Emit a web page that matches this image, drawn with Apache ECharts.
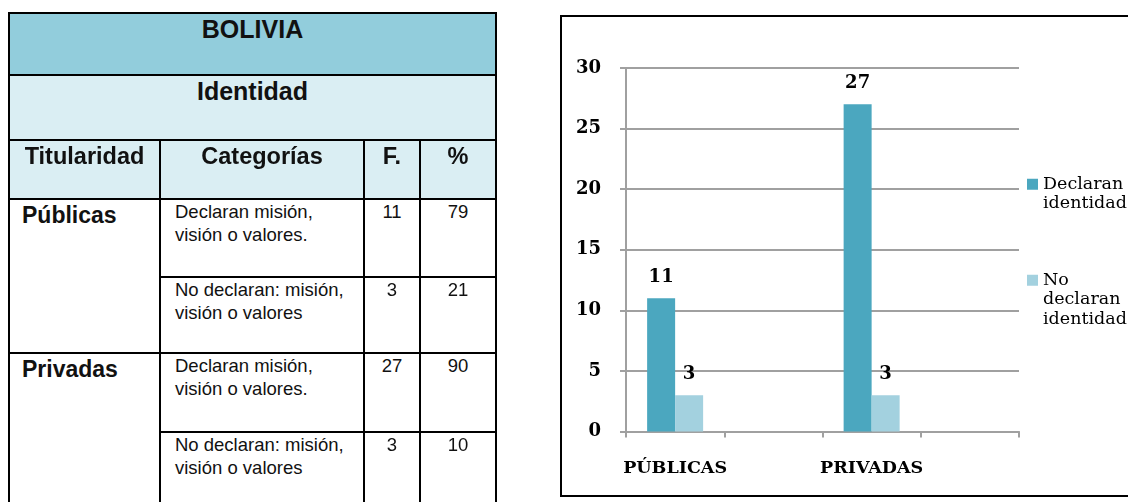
<!DOCTYPE html>
<html>
<head>
<meta charset="utf-8">
<script src="https://cdn.jsdelivr.net/npm/echarts@6/dist/echarts.min.js"></script>
<style>
  html, body { margin: 0; padding: 0; background: #fff; }
  #wrap { position: relative; width: 1128px; height: 502px; overflow: hidden; }
  #chart { position: absolute; left: 0; top: 0; width: 1128px; height: 502px; }
  #box { position: absolute; left: 560px; top: 15px; width: 620px; height: 482px; border: 2px solid #000; box-sizing: border-box; pointer-events: none; }
  #table { position: absolute; left: 0; top: 0; width: 520px; height: 502px; font-family: 'Liberation Sans', Arial, sans-serif; }
  .cell { position: absolute; box-sizing: border-box; border: 2px solid #000; color: #111; overflow: hidden; }
  .hdr { font-weight: bold; font-size: 23.5px; line-height: 26px; text-align: center; color: #111; }
  .big { font-size: 25px; line-height: 27px; }
  .tit { font-weight: bold; font-size: 23px; line-height: 26px; text-align: left; }
  .txt { font-size: 18.5px; line-height: 23.3px; text-align: left; white-space: pre; }
  .num { font-size: 18.5px; line-height: 23.3px; text-align: center; }
</style>
</head>
<body>
<div id="wrap">
  <div id="chart"></div>
  <div id="box"></div>
  <div id="table"></div>
</div>
<script>
// ---- Table data ----
const tableTitle = 'BOLIVIA';
const tableSubtitle = 'Identidad';
const tableHeaders = ['Titularidad', 'Categorías', 'F.', '%'];
const titularidad = ['Públicas', 'Privadas'];
const categorias = ['Declaran misión,\nvisión o valores.', 'No declaran: misión,\nvisión o valores', 'Declaran misión,\nvisión o valores.', 'No declaran: misión,\nvisión o valores'];
const frecuencias = [11, 3, 27, 3];
const porcentajes = [79, 21, 90, 10];

// ---- Chart data ----
const categories = ['PÚBLICAS', '', 'PRIVADAS', ' '];
const declaran = [11, null, 27, null];
const noDeclaran = [3, null, 3, null];
const seriesNames = ['Declaran identidad', 'No declaran identidad'];
const yMin = 0, yMax = 30, yInterval = 5;

// ---- Build table (layout only) ----
const X = [9, 160, 364, 420, 496];
const Y = [13, 75, 139.5, 199, 277, 353, 431.5, 520];
const tbl = document.getElementById('table');
function cell(x0, y0, x1, y1, text, cls, bg, pad) {
  const d = document.createElement('div');
  d.className = 'cell ' + cls;
  d.style.left = (x0 - 1) + 'px';
  d.style.top = (y0 - 1) + 'px';
  d.style.width = (x1 - x0 + 2) + 'px';
  d.style.height = (y1 - y0 + 2) + 'px';
  d.style.background = bg || '#fff';
  d.style.padding = pad;
  d.textContent = text;
  tbl.appendChild(d);
}
cell(X[0], Y[0], X[4], Y[1], tableTitle, 'hdr big', '#92CDDC', '2px 0 0 0');
cell(X[0], Y[1], X[4], Y[2], tableSubtitle, 'hdr big', '#DAEEF3', '1.5px 0 0 0');
for (let c = 0; c < 4; c++) {
  cell(X[c], Y[2], X[c + 1], Y[3], tableHeaders[c], 'hdr', '#DAEEF3', '2px 0 0 0');
}
for (let g = 0; g < 2; g++) {
  cell(X[0], Y[3 + 2 * g], X[1], Y[5 + 2 * g], titularidad[g], 'tit', '#fff', '2px 0 0 12px');
}
for (let r = 0; r < 4; r++) {
  cell(X[1], Y[3 + r], X[2], Y[4 + r], categorias[r], 'txt', '#fff', '0 0 0 14px');
  cell(X[2], Y[3 + r], X[3], Y[4 + r], String(frecuencias[r]), 'num', '#fff', '0');
  cell(X[3], Y[3 + r], X[4], Y[4 + r], String(porcentajes[r]), 'num', '#fff', '0');
}

// ---- Chart ----
const chart = echarts.init(document.getElementById('chart'), null, { renderer: 'canvas' });
const serifBold = { fontFamily: 'DejaVu Serif', fontWeight: 'bold', fontSize: 18, color: '#000' };
const gridColor = '#A0A0A0';
chart.setOption({
  animation: false,
  grid: { left: 626, right: 109, top: 68, bottom: 70.5, containLabel: false },
  xAxis: {
    type: 'category',
    data: categories,
    boundaryGap: true,
    axisLine: { show: true, lineStyle: { color: gridColor, width: 2 } },
    axisTick: { show: true, alignWithLabel: false, length: 6, lineStyle: { color: gridColor, width: 2 } },
    axisLabel: Object.assign({ margin: 28, interval: 0 }, serifBold, { fontSize: 17.5 }),
    splitLine: { show: false }
  },
  yAxis: {
    type: 'value',
    min: yMin, max: yMax, interval: yInterval,
    axisLine: { show: true, lineStyle: { color: gridColor, width: 2 } },
    axisTick: { show: true, length: 6, lineStyle: { color: gridColor, width: 2 } },
    axisLabel: Object.assign({ margin: 25 }, serifBold),
    splitLine: { show: true, lineStyle: { color: gridColor, width: 2 } }
  },
  legend: {
    orient: 'vertical',
    left: 1027, top: 155,
    padding: 0,
    itemWidth: 11, itemHeight: 11, itemGap: 18,
    icon: 'rect',
    selectedMode: false,
    formatter: function (n) {
      const lines = n.split(' ');
      return '\n'.repeat(lines.length - 1) + lines.join('\n');
    },
    textStyle: { fontFamily: 'DejaVu Serif', fontSize: 17.5, lineHeight: 19.5, color: '#000' },
    data: seriesNames
  },
  series: [
    {
      name: seriesNames[0], type: 'bar', data: declaran,
      barWidth: 28, barGap: '0%',
      itemStyle: { color: '#4BA7BF' },
      label: Object.assign({ show: true, position: 'top', distance: 12 }, serifBold)
    },
    {
      name: seriesNames[1], type: 'bar', data: noDeclaran,
      barWidth: 28, barGap: '0%',
      itemStyle: { color: '#A3D1DF' },
      label: Object.assign({ show: true, position: 'top', distance: 12 }, serifBold)
    }
  ]
});
</script>
</body>
</html>
